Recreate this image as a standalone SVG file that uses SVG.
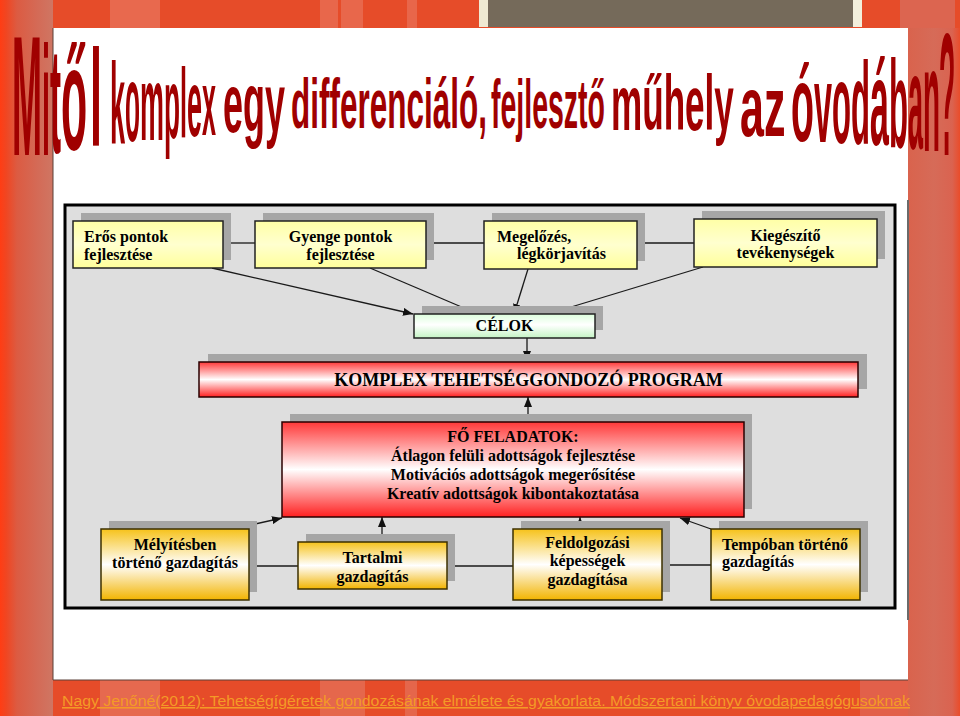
<svg xmlns="http://www.w3.org/2000/svg" width="960" height="716" viewBox="0 0 960 716">
<defs>
  <linearGradient id="gLeft" x1="0" y1="0" x2="1" y2="0">
    <stop offset="0" stop-color="#ff3d14"/>
    <stop offset="0.12" stop-color="#f04622"/>
    <stop offset="0.32" stop-color="#dc5b42"/>
    <stop offset="0.7" stop-color="#d46a56"/>
    <stop offset="1" stop-color="#cf7663"/>
  </linearGradient>
  <linearGradient id="gRight" x1="0" y1="0" x2="1" y2="0">
    <stop offset="0" stop-color="#d9634d"/>
    <stop offset="0.5" stop-color="#d66b58"/>
    <stop offset="0.85" stop-color="#da6350"/>
    <stop offset="1" stop-color="#ea4c2a"/>
  </linearGradient>
  <linearGradient id="gYel" x1="0" y1="0" x2="0" y2="1">
    <stop offset="0" stop-color="#ffffa6"/>
    <stop offset="0.5" stop-color="#ffffcf"/>
    <stop offset="1" stop-color="#ffff9a"/>
  </linearGradient>
  <linearGradient id="gGrn" x1="0" y1="0" x2="0" y2="1">
    <stop offset="0" stop-color="#dcffdc"/>
    <stop offset="0.45" stop-color="#ffffff"/>
    <stop offset="1" stop-color="#c4f4c4"/>
  </linearGradient>
  <linearGradient id="gRed" x1="0" y1="0" x2="0" y2="1">
    <stop offset="0" stop-color="#ff3838"/>
    <stop offset="0.5" stop-color="#ffffff"/>
    <stop offset="1" stop-color="#ff2020"/>
  </linearGradient>
  <linearGradient id="gGold" x1="0" y1="0" x2="0" y2="1">
    <stop offset="0" stop-color="#f6c21a"/>
    <stop offset="0.5" stop-color="#ffffff"/>
    <stop offset="1" stop-color="#f2b400"/>
  </linearGradient>
  <marker id="ah" viewBox="0 0 10 8" refX="10" refY="4" markerWidth="10" markerHeight="8" markerUnits="userSpaceOnUse" orient="auto">
    <path d="M0,0 L10,4 L0,8 z" fill="#111"/>
  </marker>
</defs>
<style>
  .t { font-family: "Liberation Sans", Arial, sans-serif; font-weight: bold; fill: #a00000; }
  .lbl { font-family: "Liberation Serif", "Times New Roman", serif; font-weight: bold; font-size: 16px; fill: #000; }
  .big { font-size: 18px; }
  .mid { text-anchor: middle; }
  .shadow { fill: #a6a6a6; }
  .yel { fill: url(#gYel); stroke: #222; stroke-width: 1.5; }
  .grn { fill: url(#gGrn); stroke: #222; stroke-width: 1.5; }
  .red { fill: url(#gRed); stroke: #2a0000; stroke-width: 1.5; }
  .gold { fill: url(#gGold); stroke: #3d3000; stroke-width: 1.5; }
  .ln { stroke: #1a1a1a; stroke-width: 1.3; fill: none; }
  .arr { stroke: #1a1a1a; stroke-width: 1.3; fill: none; marker-end: url(#ah); }
</style>

<g id="frame">
  <rect x="0" y="0" width="960" height="716" fill="#e64c29"/>
  <rect x="0" y="0" width="53" height="716" fill="url(#gLeft)"/>
  <rect x="110" y="0" width="50" height="28" fill="#e8694e"/>
  <rect x="320" y="0" width="18" height="28" fill="#e8674b"/>
  <rect x="341" y="0" width="22" height="28" fill="#e8674b"/>
  <rect x="407" y="0" width="10" height="28" fill="#e8664a"/>
  <rect x="479" y="0" width="9" height="27" fill="#efe9d2"/>
  <rect x="488" y="0" width="365" height="27" fill="#756a5a"/>
  <rect x="853" y="0" width="9" height="27" fill="#f3efdc"/>
  <rect x="900" y="0" width="55" height="28" fill="#dc6550"/>
  <rect x="908" y="28" width="52" height="688" fill="url(#gRight)"/>
  <rect x="100" y="680" width="60" height="36" fill="#e6694f"/>
  <rect x="320" y="680" width="45" height="36" fill="#e5674c"/>
  <rect x="405" y="680" width="12" height="36" fill="#e5664b"/>
  <rect x="860" y="680" width="48" height="36" fill="#e2604a"/>
  <rect x="53" y="28" width="855" height="652" fill="#ffffff"/>
  <line x1="53" y1="28" x2="53" y2="680" stroke="#5a4038" stroke-width="1"/>
  <line x1="53" y1="680" x2="908" y2="680" stroke="#5a4038" stroke-width="1"/>
  <line x1="908" y1="200" x2="908" y2="620" stroke="#6a6a6a" stroke-width="2"/>
</g>

<g id="title">
  <text class="t" font-size="170" transform="translate(12,155) scale(0.212,1)">M</text>
  <text class="t" font-size="156" transform="translate(42,155) scale(0.184,1)">i</text>
  <text class="t" font-size="151" transform="translate(50,153) scale(0.219,1)">t</text>
  <text class="t" font-size="148" transform="translate(61,150) scale(0.29,1)">ő</text>
  <text class="t" font-size="137" transform="translate(90,146) scale(0.315,1)">l</text>
  <text class="t" font-size="115" transform="translate(110,143) scale(0.235,1)">k</text>
  <text class="t" font-size="109" transform="translate(125,141) scale(0.225,1)">o</text>
  <text class="t" font-size="105" transform="translate(140,139.5) scale(0.257,1)">m</text>
  <text class="t" font-size="100" transform="translate(164,138) scale(0.262,1)">p</text>
  <text class="t" font-size="98" transform="translate(180,137) scale(0.257,1)">l</text>
  <text class="t" font-size="95" transform="translate(187,136) scale(0.284,1)">e</text>
  <text class="t" font-size="92" transform="translate(202,135) scale(0.273,1)">x</text>
  <text class="t" font-size="84" transform="translate(223,132) scale(0.428,1)">egy</text>
  <text class="t" font-size="70" transform="translate(291,128) scale(0.45,1)">differenciáló,</text>
  <text class="t" font-size="68" transform="translate(491,128) scale(0.419,1)">fejlesztő</text>
  <text class="t" font-size="78" transform="translate(611,129.5) scale(0.45,1)">műhely</text>
  <text class="t" font-size="86" transform="translate(740,136) scale(0.5,1)">az</text>
  <text class="t" font-size="108" transform="translate(791,141) scale(0.348,1)">ó</text>
  <text class="t" font-size="110" transform="translate(814,142) scale(0.294,1)">v</text>
  <text class="t" font-size="114" transform="translate(832,143) scale(0.273,1)">o</text>
  <text class="t" font-size="117" transform="translate(851,144) scale(0.266,1)">d</text>
  <text class="t" font-size="121" transform="translate(870,145) scale(0.282,1)">á</text>
  <text class="t" font-size="125" transform="translate(889,147) scale(0.249,1)">b</text>
  <text class="t" font-size="135" transform="translate(908,149) scale(0.2,1)">a</text>
  <text class="t" font-size="148" transform="translate(923,151) scale(0.188,1)">n</text>
  <text class="t" font-size="175" transform="translate(939,155) scale(0.152,1)">?</text>
</g>

<g id="panel">
  <rect x="65" y="205" width="830" height="403" fill="#dedede" stroke="#000" stroke-width="3"/>
</g>

<g id="connectors">
  <line class="ln" x1="223" y1="243" x2="255" y2="243"/>
  <line class="ln" x1="426" y1="243" x2="484" y2="243"/>
  <line class="ln" x1="637" y1="243" x2="694" y2="243"/>
  <line class="arr" x1="212" y1="268" x2="413" y2="314"/>
  <line class="arr" x1="370" y1="268" x2="478" y2="314"/>
  <line class="arr" x1="528" y1="269" x2="514" y2="314"/>
  <line class="arr" x1="703" y1="267" x2="548" y2="314"/>
  <line class="arr" x1="527" y1="338" x2="527" y2="361"/>
  <line class="arr" x1="528" y1="422" x2="528" y2="397"/>
  <line class="ln" x1="249" y1="566" x2="298" y2="566"/>
  <line class="ln" x1="447" y1="566" x2="513" y2="566"/>
  <line class="ln" x1="662" y1="565" x2="711" y2="565"/>
  <line class="arr" x1="233" y1="529" x2="282" y2="518"/>
  <line class="arr" x1="382" y1="542" x2="382" y2="517"/>
  <line class="arr" x1="580" y1="529" x2="580" y2="517"/>
  <line class="arr" x1="711" y1="529" x2="680" y2="518"/>
</g>

<g id="n-eros">
  <rect class="shadow" x="81" y="213" width="150" height="47"/>
  <rect class="yel" x="73" y="221" width="150" height="47"/>
  <text class="lbl" x="84" y="242">Erős pontok</text>
  <text class="lbl" x="84" y="260">fejlesztése</text>
</g>
<g id="n-gyenge">
  <rect class="shadow" x="263" y="213" width="171" height="47"/>
  <rect class="yel" x="255" y="221" width="171" height="47"/>
  <text class="lbl mid" x="340.5" y="242">Gyenge pontok</text>
  <text class="lbl mid" x="340.5" y="260">fejlesztése</text>
</g>
<g id="n-megelozes">
  <rect class="shadow" x="492" y="213" width="153" height="48"/>
  <rect class="yel" x="484" y="221" width="153" height="48"/>
  <text class="lbl" x="497" y="242">Megelőzés,</text>
  <text class="lbl" x="517" y="259">légkörjavítás</text>
</g>
<g id="n-kiegeszito">
  <rect class="shadow" x="702" y="211" width="183" height="48"/>
  <rect class="yel" x="694" y="219" width="183" height="48"/>
  <text class="lbl mid" x="785.5" y="241">Kiegészítő</text>
  <text class="lbl mid" x="785.5" y="258">tevékenységek</text>
</g>
<g id="n-celok">
  <rect class="shadow" x="422" y="306" width="181" height="24"/>
  <rect class="grn" x="414" y="314" width="181" height="24"/>
  <text class="lbl mid" x="504.5" y="331">CÉLOK</text>
</g>
<g id="n-komplex">
  <rect class="shadow" x="208" y="354" width="659" height="35"/>
  <rect class="red" x="199" y="362" width="659" height="35"/>
  <text class="lbl big mid" x="528.5" y="386">KOMPLEX TEHETSÉGGONDOZÓ PROGRAM</text>
</g>
<g id="n-fo">
  <rect class="shadow" x="290" y="414" width="462" height="95"/>
  <rect class="red" x="282" y="422" width="462" height="95"/>
  <text class="lbl mid" x="513" y="442">FŐ FELADATOK:</text>
  <text class="lbl mid" x="513" y="461">Átlagon felüli adottságok fejlesztése</text>
  <text class="lbl mid" x="513" y="480">Motivációs adottságok megerősítése</text>
  <text class="lbl mid" x="513" y="499">Kreatív adottságok kibontakoztatása</text>
</g>
<g id="n-melyites">
  <rect class="shadow" x="109" y="521" width="148" height="71"/>
  <rect class="gold" x="101" y="529" width="148" height="71"/>
  <text class="lbl mid" x="175" y="550">Mélyítésben</text>
  <text class="lbl mid" x="175" y="568">történő gazdagítás</text>
</g>
<g id="n-tartalmi">
  <rect class="shadow" x="306" y="534" width="149" height="47"/>
  <rect class="gold" x="298" y="542" width="149" height="47"/>
  <text class="lbl mid" x="372.5" y="563">Tartalmi</text>
  <text class="lbl mid" x="372.5" y="582">gazdagítás</text>
</g>
<g id="n-feldolgozasi">
  <rect class="shadow" x="521" y="521" width="149" height="71"/>
  <rect class="gold" x="513" y="529" width="149" height="71"/>
  <text class="lbl mid" x="587.5" y="548">Feldolgozási</text>
  <text class="lbl mid" x="587.5" y="566">képességek</text>
  <text class="lbl mid" x="587.5" y="585">gazdagítása</text>
</g>
<g id="n-tempo">
  <rect class="shadow" x="719" y="521" width="149" height="71"/>
  <rect class="gold" x="711" y="529" width="149" height="71"/>
  <text class="lbl" x="722" y="550">Tempóban történő</text>
  <text class="lbl" x="722" y="567">gazdagítás</text>
</g>

<g id="footer">
  <text x="62" y="706" font-family="'Liberation Sans', Arial, sans-serif" font-size="15.5" fill="#f49a26" text-decoration="underline" textLength="848" lengthAdjust="spacingAndGlyphs">Nagy Jenőné(2012): Tehetségígéretek gondozásának elmélete és gyakorlata. Módszertani könyv óvodapedagógusoknak</text>
</g>
</svg>
